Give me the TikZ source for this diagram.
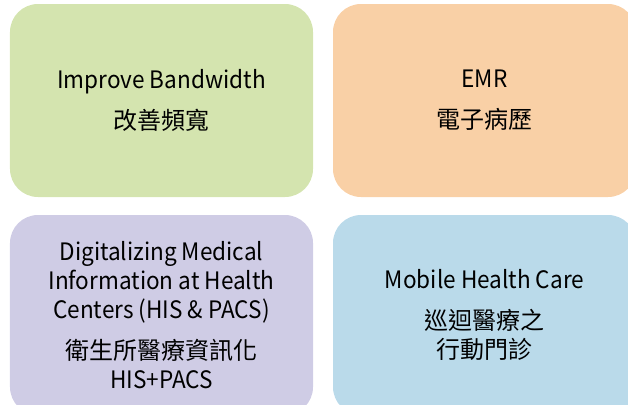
\documentclass[tikz,border=0pt]{standalone}
\usepackage{fontspec}
\setmainfont{Noto Sans CJK TC}
\newfontfamily\latinsans{Noto Sans CJK TC}[FakeStretch=0.94]
\usepackage{tikz}
\usetikzlibrary{positioning}
\definecolor{cardgreen}{RGB}{212,228,175}
\definecolor{cardorange}{RGB}{249,208,166}
\definecolor{cardpurple}{RGB}{207,204,229}
\definecolor{cardblue}{RGB}{186,218,234}
\newcommand{\Lterm}[1]{{\latinsans #1}}
\tikzset{card/.style={rectangle,rounded corners=28bp,draw=none,
  minimum width=303bp,minimum height=193bp,inner sep=0pt,align=center,
  font=\fontsize{24bp}{29bp}\selectfont}}

\begin{document}
\begin{tikzpicture}[x=1bp,y=-1bp]
\useasboundingbox (0,0) rectangle (628,404);
\clip (0,0) rectangle (628,404);
% \draw[help lines] (0,0) grid (628,404);
\node (bw) [card,fill=cardgreen] at (161.5,100.5) {\Lterm{Improve Bandwidth}\\[12bp]改善頻寬};
\node (emr) [card,fill=cardorange] at (484.5,100.5) {\Lterm{EMR}\\[12bp]電子病歷};
%
\node (his) [card,fill=cardpurple,minimum height=200bp] at (161.5,315) {\Lterm{Digitalizing Medical}\\\Lterm{Information at Health}\\\Lterm{Centers (HIS \& PACS)}\\[12bp]衛生所醫療資訊化\\\Lterm{HIS+PACS}};
\node (mhc) [card,fill=cardblue,minimum height=200bp] at (484.5,315) {\Lterm{Mobile Health Care}\\[12bp]巡迴醫療之\\行動門診};
\end{tikzpicture}
\end{document}
